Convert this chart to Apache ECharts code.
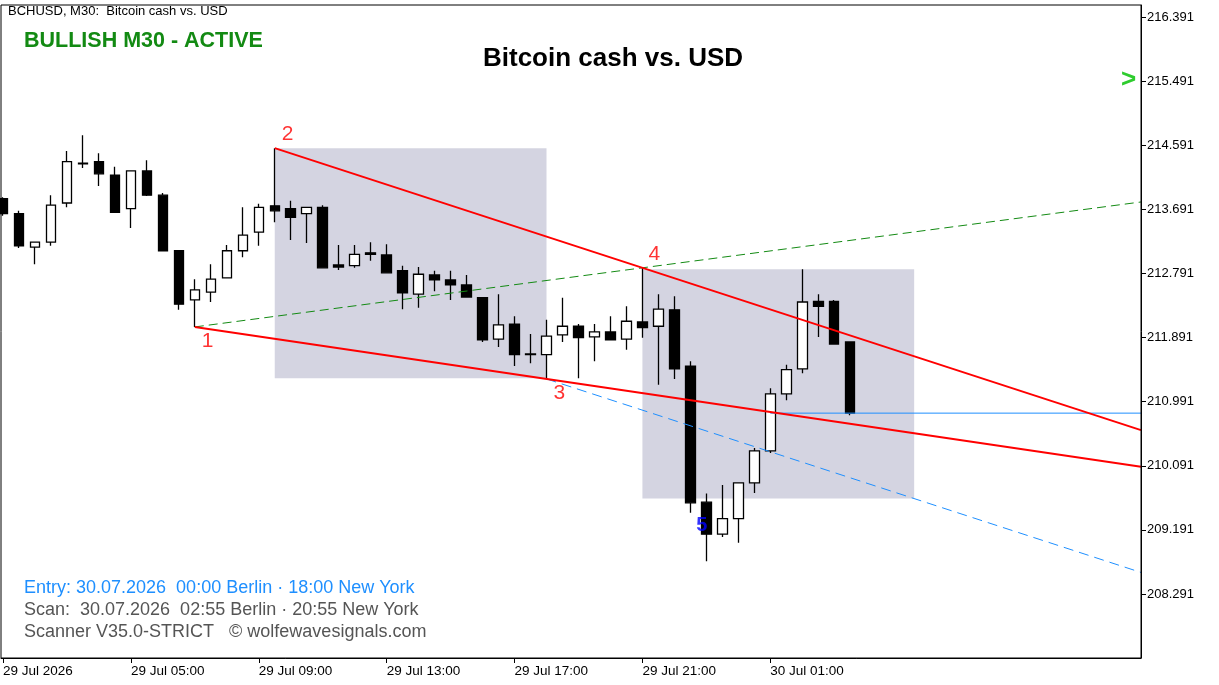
<!DOCTYPE html>
<html><head><meta charset="utf-8">
<script src="https://cdn.jsdelivr.net/npm/echarts@6/dist/echarts.min.js"></script>
<style>html,body{margin:0;padding:0;background:#fff}#c{width:1219px;height:685px}</style>
</head><body><div id="c"></div>
<script>
// [open, close, low, high] per 30-min bar
const opens  = [213.84,213.63,213.16,213.23,213.78,214.34,214.36,214.17,213.70,214.23,213.89,213.11,212.42,212.53,212.73,213.11,213.37,213.74,213.70,213.63,213.72,212.91,212.90,213.08,213.05,212.83,212.50,212.77,212.70,212.63,212.45,211.87,212.08,211.66,211.65,211.93,212.05,211.90,211.97,211.87,212.11,212.05,212.28,211.49,209.58,209.13,209.35,209.85,210.30,211.10,211.45,212.40,212.40,211.83];
const closes = [213.63,213.18,213.23,213.75,214.36,214.33,214.19,213.65,214.23,213.89,213.11,212.36,212.56,212.71,213.11,213.33,213.72,213.67,213.58,213.72,212.87,212.88,213.06,213.06,212.80,212.52,212.78,212.70,212.63,212.46,211.86,212.07,211.65,211.65,211.91,212.05,211.89,211.97,211.86,212.12,212.03,212.29,211.45,209.57,209.13,209.35,209.85,210.30,211.10,211.44,212.39,212.33,211.80,210.83];
const lows   = [213.60,213.15,212.92,213.18,213.72,214.27,214.02,213.64,213.43,213.88,213.11,212.28,212.04,212.39,212.73,213.02,213.18,213.51,213.26,213.22,212.87,212.84,212.87,212.97,212.80,212.29,212.31,212.54,212.42,212.45,211.83,211.76,211.49,211.53,211.31,211.83,211.32,211.56,211.86,211.72,211.89,211.23,211.31,209.43,208.75,209.09,209.01,209.71,210.27,211.01,211.39,211.90,211.79,210.80];
const highs  = [213.86,213.67,213.23,213.89,214.51,214.73,214.48,214.29,214.23,214.38,213.92,213.11,212.71,212.92,213.19,213.72,213.77,214.55,213.81,213.72,213.75,213.19,213.19,213.23,213.20,212.90,212.88,212.83,212.83,212.77,212.46,212.50,212.19,211.94,212.14,212.45,212.08,212.08,212.19,212.33,212.87,212.50,212.47,211.56,209.70,209.82,209.85,210.34,211.18,211.51,212.85,212.50,212.42,211.83];
const xTickIdx = [0,8,16,24,32,40,48];
const xTickLabels = ['29 Jul 2026','29 Jul 05:00','29 Jul 09:00','29 Jul 13:00','29 Jul 17:00','29 Jul 21:00','30 Jul 01:00'];
const yTicks = [208.291,209.191,210.091,210.991,211.891,212.791,213.691,214.591,215.491,216.391];
// wave points [barIndex, price]
const wavePts = [[12,212.04],[17,214.55],[34,211.31],[40,212.87],[44,208.75]];
const rect1 = [[17,214.55],[34,211.32]];
const rect2 = [[40,212.85],[57,209.63]];
const entryLevel = [48,210.83];

const XMIN=-0.125, XMAX=71.19;
const candles = opens.map((o,i)=>[i,o,closes[i],lows[i],highs[i]]);
function ext(a,b,x){return a[1]+(b[1]-a[1])*(x-a[0])/(b[0]-a[0]);}
const P=wavePts;
const upper=[[P[1][0],P[1][1]],[XMAX,ext(P[1],P[3],XMAX)]];
const lower=[[P[0][0],P[0][1]],[XMAX,ext(P[0],P[2],XMAX)]];
const green=[[P[0][0],P[0][1]],[XMAX,ext(P[0],P[3],XMAX)]];
const slope=(P[3][1]-P[1][1])/(P[3][0]-P[1][0]);
const blue=[[P[2][0],P[2][1]],[XMAX,P[2][1]+slope*(XMAX-P[2][0])]];
const F='"Liberation Sans", Arial, sans-serif';
const chart=echarts.init(document.getElementById('c'));
chart.setOption({
  animation:false,
  grid:{left:0,right:78,top:5,bottom:27},
  xAxis:{type:'value',min:XMIN,max:XMAX,splitLine:{show:false},
    axisLine:{onZero:false,lineStyle:{color:'#000'}},
    axisTick:{show:true,customValues:xTickIdx,length:5,lineStyle:{color:'#000'}},
    axisLabel:{customValues:xTickIdx,formatter:v=>xTickLabels[xTickIdx.indexOf(Math.round(v))]||'',
      align:'left',color:'#000',fontFamily:F,fontSize:13.5,margin:6}},
  yAxis:{type:'value',position:'right',min:207.392,max:216.56,splitLine:{show:false},
    axisLine:{show:true,onZero:false,lineStyle:{color:'#000'}},
    axisTick:{show:true,customValues:yTicks,length:5,inside:false,lineStyle:{color:'#000'}},
    axisLabel:{customValues:yTicks,formatter:v=>v.toFixed(3),color:'#000',fontFamily:F,fontSize:13,margin:6}},
  series:[
    {type:'line',data:[],z:1,markArea:{silent:true,itemStyle:{color:'#d4d4e1'},
      data:[[{coord:rect1[0]},{coord:rect1[1]}],[{coord:rect2[0]},{coord:rect2[1]}]]}},
    {type:'candlestick',data:candles,encode:{x:0,y:[1,2,3,4]},barWidth:10,z:3,
      itemStyle:{color:'#fff',color0:'#000',borderColor:'#000',borderColor0:'#000',borderWidth:1.3}},
    {type:'line',data:green,symbol:'none',z:4,lineStyle:{color:'#138a13',width:1,type:[9,5]}},
    {type:'line',data:blue,symbol:'none',z:4,lineStyle:{color:'#1e8fff',width:1,type:[10,6]}},
    {type:'line',data:[entryLevel,[XMAX,entryLevel[1]]],symbol:'none',z:4,lineStyle:{color:'#1e8fff',width:1}},
    {type:'line',data:upper,symbol:'none',z:5,lineStyle:{color:'#ff0000',width:2}},
    {type:'line',data:lower,symbol:'none',z:5,lineStyle:{color:'#ff0000',width:2}},
    {type:'scatter',symbolSize:0,zlevel:1,z:6,data:P.map((p,i)=>({value:p,label:{show:true,formatter:String(i+1),
      fontFamily:F,fontSize:i===4?20:21,fontWeight:i===4?'bold':'normal',color:i===4?'#0000ff':'#ff0000',
      position:[ [7,4],[7,-24],[7,4],[6,-24],[-10,-46] ][i]}}))}
  ],
  graphic:[
    {type:'text',left:8,top:5,style:{text:'BCHUSD, M30:  Bitcoin cash vs. USD',font:'13px '+F,fill:'#000'}},
    {type:'text',left:24,top:30,style:{text:'BULLISH M30 - ACTIVE',font:'bold 21.5px '+F,fill:'#138a13'}},
    {type:'text',left:483,top:46,style:{text:'Bitcoin cash vs. USD',font:'bold 26px '+F,fill:'#000'}},
    {type:'text',left:1121,top:67,style:{text:'>',font:'bold 26px '+F,fill:'#2ecc2e'}},
    {type:'text',left:24,top:579,style:{text:'Entry: 30.07.2026  00:00 Berlin · 18:00 New York',font:'18px '+F,fill:'#1e8fff'}},
    {type:'text',left:24,top:601,style:{text:'Scan:  30.07.2026  02:55 Berlin · 20:55 New York',font:'18px '+F,fill:'#555'}},
    {type:'text',left:24,top:623,style:{text:'Scanner V35.0-STRICT   © wolfewavesignals.com',font:'18px '+F,fill:'#555'}},
    {type:'rect',shape:{x:1,y:5,width:1140,height:653},style:{fill:'none',stroke:'#000',lineWidth:1},z:10}
  ]
});
</script></body></html>
